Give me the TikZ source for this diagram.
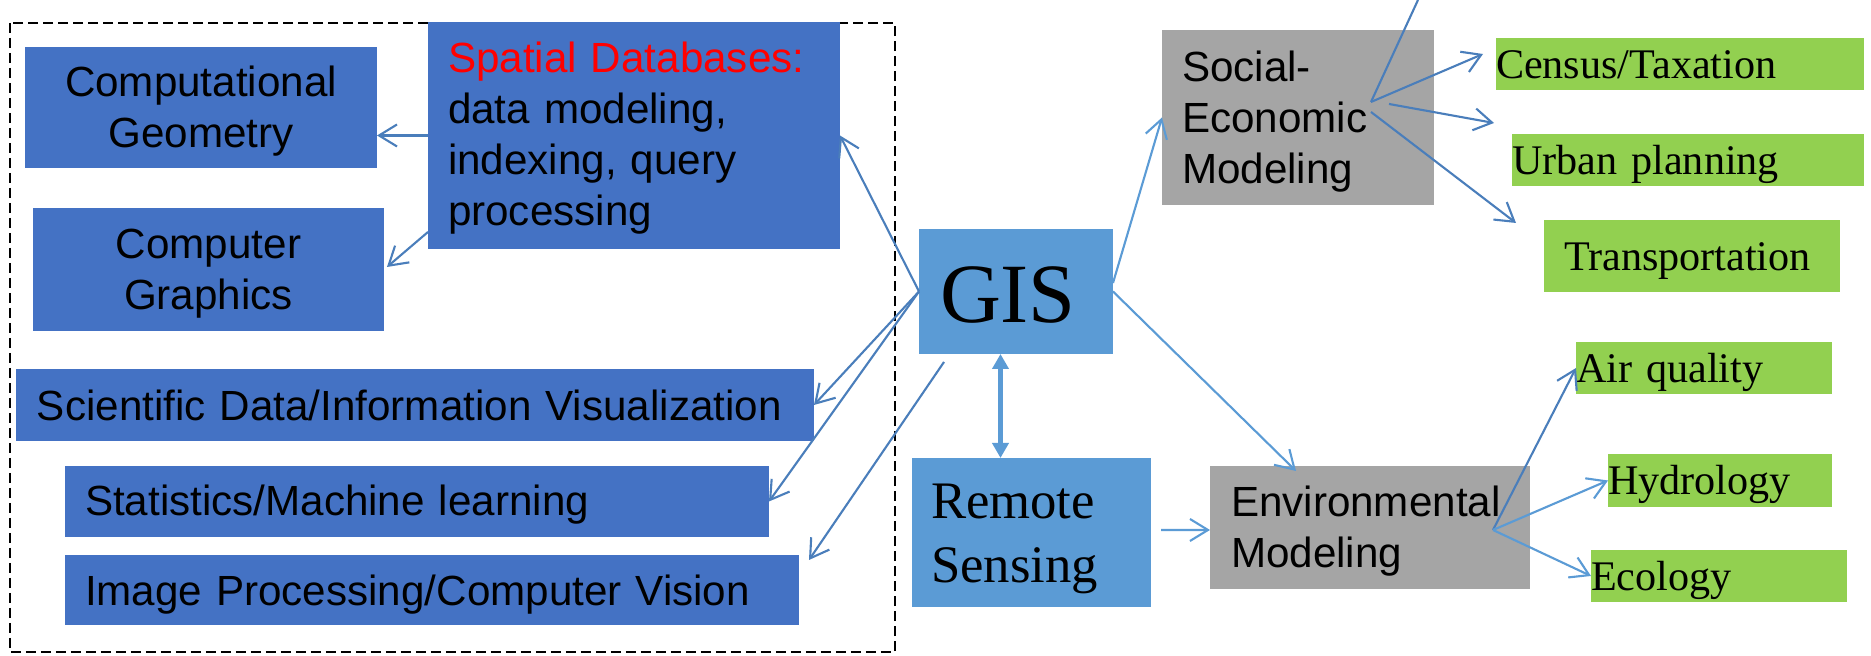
\documentclass[tikz,border=0pt]{standalone}
\usepackage{fontspec}
\setmainfont{Liberation Serif}
\setsansfont{Liberation Sans}
\usepackage{tikz}
\usetikzlibrary{arrows.meta}
\usetikzlibrary{calc}

\definecolor{darkblue}{HTML}{4472C4}
\definecolor{lightblue}{HTML}{5B9BD5}
\definecolor{boxgray}{HTML}{A5A5A5}
\definecolor{boxgreen}{HTML}{92D050}
\definecolor{linedark}{HTML}{4A7EBB}
\definecolor{linelight}{HTML}{5B9BD5}

\tikzset{
  box/.style={rectangle, anchor=north west, inner ysep=0pt, outer sep=0pt},
  armbox/.style={box, font=\sffamily\fontsize{12}{14.5}\selectfont, text height=9pt},
  timesbox/.style={box, font=\rmfamily\fontsize{12}{14.5}\selectfont, text height=9.7pt, text depth=1.5pt},
  conn/.style={draw=linedark, line width=0.6pt, -{Straight Barb[length=1.8mm,width=2.2mm]}},
  connlight/.style={conn, draw=linelight},
  frame/.style={draw=black, line width=0.2mm, dash pattern=on 1mm off 0.5mm}
}

\begin{document}
\begin{tikzpicture}[x=0.1mm, y=-0.1mm]
        \useasboundingbox (0,0) rectangle (1871,656);
        \draw[frame] (10,23) rectangle (895,652);

        % left group
        \node[armbox, fill=darkblue, minimum width=35.2mm, minimum height=12.1mm, inner xsep=1mm, text width=33.2mm, text depth=15pt, align=center] (geom) at (25,47) {Computational\\Geometry};
        \node[armbox, fill=darkblue, minimum width=35.1mm, minimum height=12.3mm, inner xsep=1mm, text width=33.1mm, text depth=15.5pt, align=center] (graph) at (33,208) {Computer\\Graphics};
        \node[armbox, fill=darkblue, minimum width=41.2mm, minimum height=22.7mm, inner xsep=2mm, text width=37.2mm, text depth=45pt, align=left] (sdb) at (428,22) {\textcolor{red}{Spatial Databases:}\\data modeling,\\indexing, query\\processing};
        \node[armbox, fill=darkblue, minimum width=79.8mm, minimum height=7.2mm, inner xsep=2.1mm, text width=75.6mm, text depth=0.3pt, align=left] (sci) at (16,369) {Scientific Data/Information Visualization};
        \node[armbox, fill=darkblue, minimum width=70.4mm, minimum height=7.1mm, inner xsep=2mm, text width=66.4mm, text depth=0.8pt, align=left] (stat) at (65,466) {Statistics/Machine learning};
        \node[armbox, fill=darkblue, minimum width=73.4mm, minimum height=7mm, inner xsep=2mm, text width=69.4mm, text depth=0.3pt, align=left] (img) at (65,555) {Image Processing/Computer Vision};

        % middle
        \node[box, fill=lightblue, font=\rmfamily\fontsize{24}{28}\selectfont, minimum width=19.4mm, minimum height=12.5mm, inner xsep=2.1mm, text width=15.2mm, text height=17.7pt, text depth=0.3pt, align=left] (gis) at (919,229) {GIS};
        \node[box, fill=lightblue, font=\rmfamily\fontsize{15}{18.1}\selectfont, minimum width=23.9mm, minimum height=14.9mm, inner xsep=1.9mm, text width=20.1mm, text height=10pt, text depth=17.7pt, align=left] (rs) at (912,458) {Remote\\Sensing};

        % right
        \node[armbox, fill=boxgray, minimum width=27.2mm, minimum height=17.5mm, inner xsep=2mm, text width=23.2mm, text depth=29.2pt, align=left] (soc) at (1162,30) {Social-\\Economic\\Modeling};
        \node[armbox, fill=boxgray, minimum width=32mm, minimum height=12.3mm, inner xsep=2.1mm, text width=27.8mm, text depth=15.5pt, align=left] (env) at (1210,466) {Environmental\\Modeling};

        \node[timesbox, fill=boxgreen, minimum width=36.8mm, minimum height=5.2mm, inner xsep=0pt, text width=36.8mm, align=left] (census) at (1496,38) {Census/Taxation};
        \node[timesbox, fill=boxgreen, minimum width=35.2mm, minimum height=5.2mm, inner xsep=0pt, text width=35.2mm, align=left] (urban) at (1512,134) {Urban planning};
        \node[timesbox, fill=boxgreen, minimum width=29.6mm, minimum height=7.2mm, inner xsep=2mm, text width=25.6mm, align=left] (trans) at (1544,220) {Transportation};
        \node[timesbox, fill=boxgreen, minimum width=25.6mm, minimum height=5.2mm, inner xsep=0pt, text width=25.6mm, align=left] (air) at (1576,342) {Air quality};
        \node[timesbox, fill=boxgreen, minimum width=22.4mm, minimum height=5.3mm, inner xsep=0pt, text width=22.4mm, align=left] (hydro) at (1608,454) {Hydrology};
        \node[timesbox, fill=boxgreen, minimum width=25.6mm, minimum height=5.2mm, inner xsep=0pt, text width=25.6mm, align=left] (eco) at (1591,550) {Ecology};

        \coordinate (sochub) at (1371,102);
        \coordinate (soctop) at (1418,0);
        \coordinate (envhub) at (1493,530);

        % arrows
        \draw[conn] (sdb.west) -- (sdb.west -| geom.east);
        \draw[conn] ([yshift=1.7mm]sdb.south west) -- ([xshift=0.3mm,yshift=0.25mm]graph.east);

        \draw[conn] (gis.west) -- (sdb.east);
        \draw[conn] (gis.west) -- (sci.east);
        \draw[conn] (gis.west) -- (stat.east);
        \draw[conn] ([xshift=2.5mm,yshift=-0.8mm]gis.south west) -- ([xshift=1mm,yshift=-0.5mm]img.north east);

        \draw[connlight] ([yshift=0.85mm]gis.east) -- (soc.west);
        \draw[connlight] (gis.east) -- ([xshift=-7.4mm,yshift=-0.5mm]env.north);
        \draw[lightblue, line width=0.5mm, {Triangle[length=1.5mm,width=1.6mm]}-{Triangle[length=1.5mm,width=1.6mm]}] ([xshift=-1.55mm]gis.south) -- ([xshift=-1.55mm]gis.south |- rs.north);
        \draw[connlight] ([xshift=1mm,yshift=0.25mm]rs.east) -- ([yshift=-0.25mm]env.west);

        \draw[linedark, line width=0.6pt] (sochub) -- (soctop);
        \draw[conn] (sochub) -- ([xshift=-1.3mm,yshift=1mm]census.west);
        \draw[conn] ([xshift=1.8mm,yshift=-0.2mm]sochub) -- ([xshift=-1.8mm,yshift=1.1mm]urban.north west);
        \draw[conn] ([yshift=-1mm]sochub) -- ([xshift=-2.8mm,yshift=-0.3mm]trans.north west);

        \draw[conn] (envhub) -- (air.west);
        \draw[connlight] (envhub) -- (hydro.west);
        \draw[connlight] (envhub) -- (eco.west);
\end{tikzpicture}
\end{document}
